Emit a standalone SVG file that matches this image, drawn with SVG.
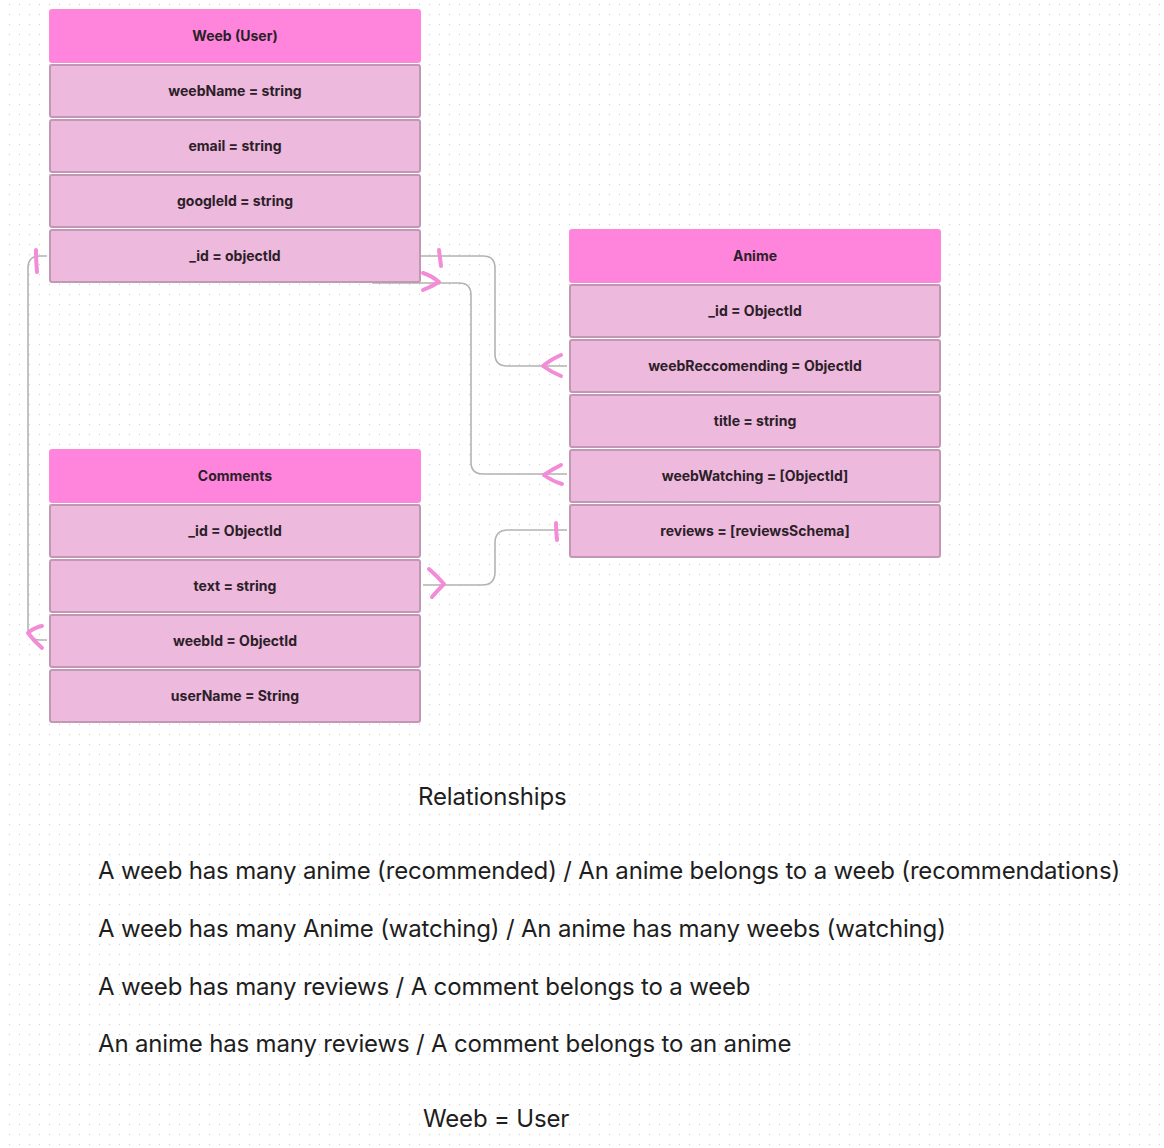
<svg xmlns="http://www.w3.org/2000/svg" width="1164" height="1148" viewBox="0 0 1164 1148">
<defs>
<pattern id="dots" x="0" y="0" width="10" height="10" patternUnits="userSpaceOnUse">
<circle cx="9.5" cy="4.5" r="0.7" fill="#d2d2d2"/>
</pattern>
<style>
.hdr{fill:#ff85dc;}
.row{fill:#edb9dc;stroke:#c297b4;stroke-width:2;}
.t{font-family:Inter,"Liberation Sans",sans-serif;font-size:14px;font-weight:700;fill:#2b2028;text-anchor:middle;}
.conn{fill:none;stroke:#b3b3b3;stroke-width:1.6;}
.mk{fill:none;stroke:#f28cd6;stroke-width:4;stroke-linecap:round;stroke-linejoin:round;}
.rel{font-family:Inter,"Liberation Sans",sans-serif;font-size:24px;fill:#1e1e1e;letter-spacing:-0.17px;}
</style>
</defs>
<rect width="1164" height="1148" fill="#ffffff"/>
<rect width="1164" height="1148" fill="url(#dots)"/>

<g id="connectors">
<path class="conn" d="M421,256 H483 Q495,256 495,268 V354 Q495,366 507,366 H567"/>
<path class="conn" d="M372,283 H459 Q471,283 471,295 V462 Q471,474 483,474 H567"/>
<path class="conn" d="M423,585 H482 Q495,585 495,572 V543 Q495,530 508,530 H567"/>
<path class="conn" d="M47,256 H40 Q28,256 28,268 V628 Q28,640 40,640 H47"/>
<path class="mk" d="M439,250 Q440,258 441,266"/>
<path class="mk" d="M423,273 Q432,276 439,282 Q431,287 423,290"/>
<path class="mk" d="M561,355 Q550,360 543,366 Q551,372 561,376"/>
<path class="mk" d="M561,465 Q551,470 544,475 Q552,481 562,484"/>
<path class="mk" d="M429,569 Q437,576 444,584 Q437,591 432,597"/>
<path class="mk" d="M556,523 Q556,531 557,540"/>
<path class="mk" d="M36,250 Q36,260 37,272"/>
<path class="mk" d="M42,626 Q33,628 28,633 Q34,641 42,648"/>
</g>

<g id="weeb">
<rect class="hdr" x="49" y="9" width="372" height="54" rx="3"/>
<text class="t" x="235" y="41">Weeb (User)</text>
<rect class="row" x="50" y="65" width="370" height="52" rx="2"/>
<text class="t" x="235" y="96">weebName = string</text>
<rect class="row" x="50" y="120" width="370" height="52" rx="2"/>
<text class="t" x="235" y="151">email = string</text>
<rect class="row" x="50" y="175" width="370" height="52" rx="2"/>
<text class="t" x="235" y="206">googleId = string</text>
<rect class="row" x="50" y="230" width="370" height="52" rx="2"/>
<text class="t" x="235" y="261">_id = objectId</text>
</g>

<g id="anime">
<rect class="hdr" x="569" y="229" width="372" height="54" rx="3"/>
<text class="t" x="755" y="261">Anime</text>
<rect class="row" x="570" y="285" width="370" height="52" rx="2"/>
<text class="t" x="755" y="316">_id = ObjectId</text>
<rect class="row" x="570" y="340" width="370" height="52" rx="2"/>
<text class="t" x="755" y="371">weebReccomending = ObjectId</text>
<rect class="row" x="570" y="395" width="370" height="52" rx="2"/>
<text class="t" x="755" y="426">title = string</text>
<rect class="row" x="570" y="450" width="370" height="52" rx="2"/>
<text class="t" x="755" y="481">weebWatching = [ObjectId]</text>
<rect class="row" x="570" y="505" width="370" height="52" rx="2"/>
<text class="t" x="755" y="536">reviews = [reviewsSchema]</text>
</g>

<g id="comments">
<rect class="hdr" x="49" y="449" width="372" height="54" rx="3"/>
<text class="t" x="235" y="481">Comments</text>
<rect class="row" x="50" y="505" width="370" height="52" rx="2"/>
<text class="t" x="235" y="536">_id = ObjectId</text>
<rect class="row" x="50" y="560" width="370" height="52" rx="2"/>
<text class="t" x="235" y="591">text = string</text>
<rect class="row" x="50" y="615" width="370" height="52" rx="2"/>
<text class="t" x="235" y="646">weebId = ObjectId</text>
<rect class="row" x="50" y="670" width="370" height="52" rx="2"/>
<text class="t" x="235" y="701">userName = String</text>
</g>

<g id="notes">
<text class="rel" x="418" y="805">Relationships</text>
<text class="rel" x="98" y="879">A weeb has many anime (recommended) / An anime belongs to a weeb (recommendations)</text>
<text class="rel" x="98" y="937">A weeb has many Anime (watching) / An anime has many weebs (watching)</text>
<text class="rel" x="98" y="995">A weeb has many reviews / A comment belongs to a weeb</text>
<text class="rel" x="98" y="1052">An anime has many reviews / A comment belongs to an anime</text>
<text class="rel" x="423" y="1127">Weeb = User</text>
</g>
</svg>
